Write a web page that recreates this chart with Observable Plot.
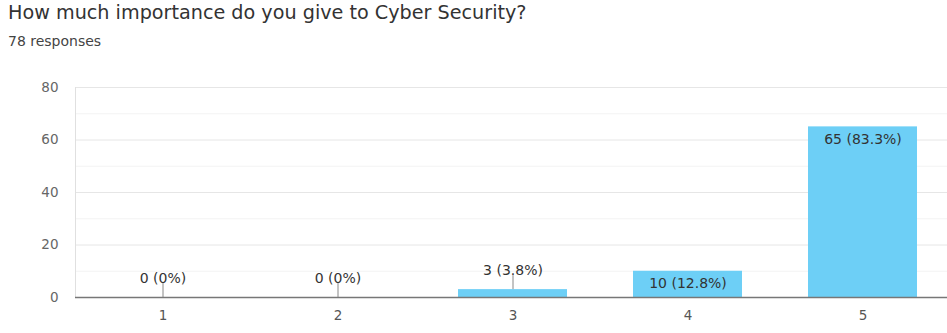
<!DOCTYPE html>
<html>
<head>
<meta charset="utf-8">
<script src="https://cdn.jsdelivr.net/npm/d3@7"></script>
<script src="https://cdn.jsdelivr.net/npm/@observablehq/plot@0.6"></script>
<style>
  html, body { margin: 0; padding: 0; background: #fff; width: 947px; height: 333px; overflow: hidden; }
  #title { position: absolute; left: 8px; top: 1px; font-family: "DejaVu Sans", sans-serif; font-size: 19.2px; color: #333; white-space: nowrap; }
  #sub { position: absolute; left: 8px; top: 33px; font-family: "DejaVu Sans", sans-serif; font-size: 14px; color: #444; white-space: nowrap; }
  #chart { position: absolute; left: 0; top: 60px; }
</style>
</head>
<body>
<div id="title"></div>
<div id="sub"></div>
<div id="chart"></div>
<script>
const titleText = "How much importance do you give to Cyber Security?";
const subtitleText = "78 responses";
const categories = ["1", "2", "3", "4", "5"];
const counts = [0, 0, 3, 10, 65];
const percents = ["0%", "0%", "3.8%", "12.8%", "83.3%"];
const yTicks = [0, 20, 40, 60, 80];
const yMinorTicks = [10, 30, 50, 70];

document.getElementById("title").textContent = titleText;
document.getElementById("sub").textContent = subtitleText;

const data = categories.map((c, i) => ({cat: c, v: counts[i], label: `${counts[i]} (${percents[i]})`}));
const inside = data.filter(d => d.v >= 8);
const outside = data.filter(d => d.v < 8);

const chart = Plot.plot({
  width: 947,
  height: 273,
  marginLeft: 75,
  marginRight: -3,
  marginTop: 27,
  marginBottom: 36,
  style: {fontFamily: "'DejaVu Sans', sans-serif", fontSize: "13px", color: "#555", background: "#fff"},
  x: {domain: categories, paddingInner: 0.38, paddingOuter: 0.19, label: null},
  y: {domain: [0, 80], label: null},
  marks: [
    Plot.ruleY(yMinorTicks, {stroke: "#f3f3f3", strokeWidth: 1}),
    Plot.ruleY(yTicks.filter(t => t > 0), {stroke: "#e6e6e6", strokeWidth: 1}),
    Plot.frame({anchor: "left", stroke: "#e0e0e0"}),
    Plot.axisY(yTicks, {tickSize: 0, tickPadding: 17, fontSize: 13.5, fill: "#666"}),
    Plot.axisX({tickSize: 0, tickPadding: 13, fontSize: 13.5, fill: "#555"}),
    Plot.barY(data, {x: "cat", y: "v", fill: "#6dcff6"}),
    Plot.ruleY([0], {stroke: "#777", strokeWidth: 1.5}),
    Plot.ruleX(outside, {x: "cat", y1: "v", y2: "v", insetTop: -14, stroke: "#888", strokeWidth: 1}),
    Plot.text(outside, {x: "cat", y: "v", text: "label", dy: -19, fontSize: 14, fill: "#333"}),
    Plot.text(inside, {x: "cat", y: "v", text: "label", dy: 12.5, fontSize: 14, fill: "#333"})
  ]
});
document.getElementById("chart").appendChild(chart);
</script>
</body>
</html>
